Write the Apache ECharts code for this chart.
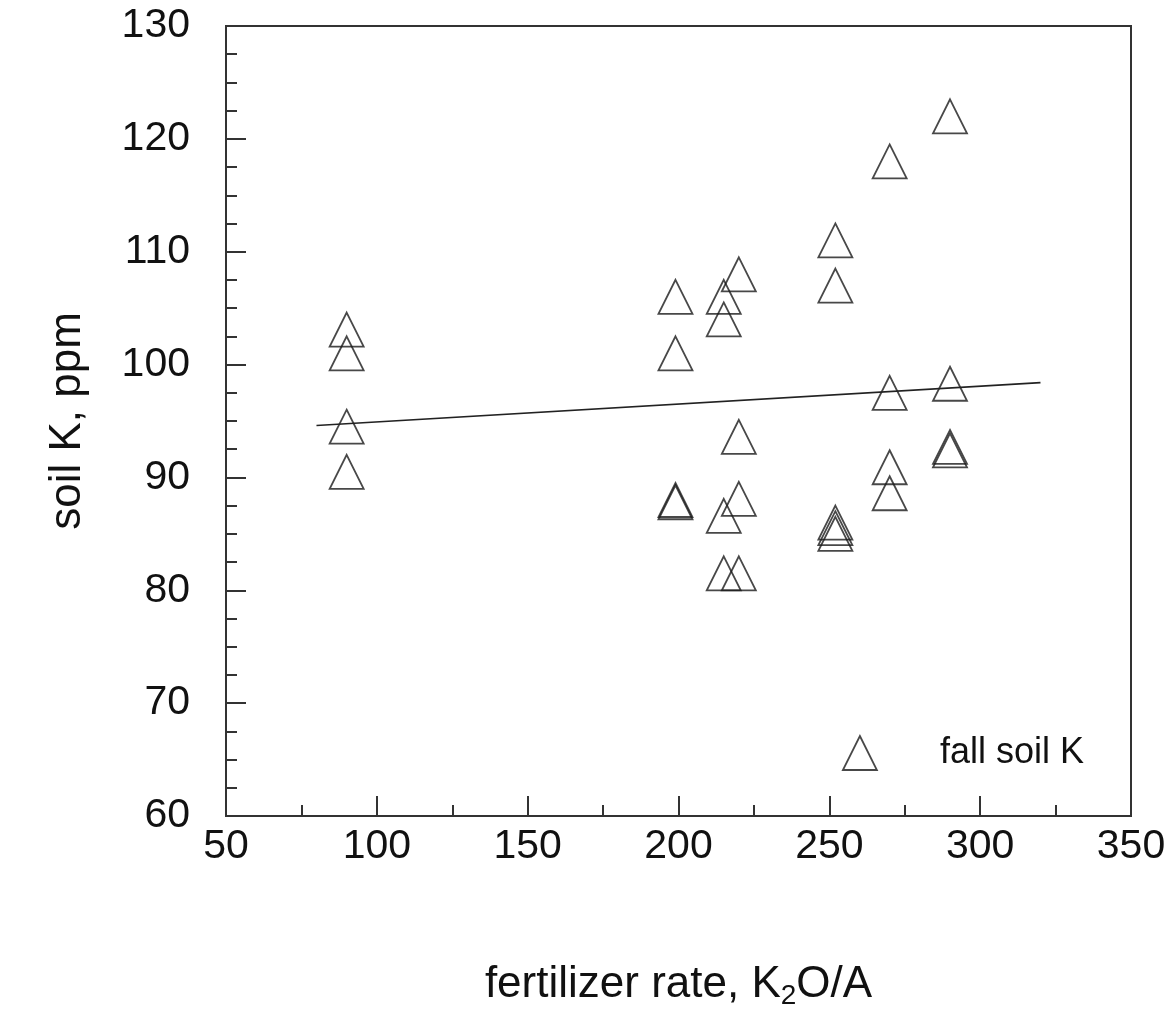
<!DOCTYPE html>
<html>
<head>
<meta charset="utf-8">
<script src="https://cdn.jsdelivr.net/npm/echarts/dist/echarts.min.js"></script>
<style>
  body { margin: 0; background: #fff; }
  #soilChart { width: 1169px; height: 1016px; }
</style>
</head>
<body>
<div id="soilChart"></div>
<script>
// fertilizer rate (K2O/A) for each plot
var rate = [90, 90, 90, 90,
            199, 199, 199, 199,
            215, 215, 215, 215,
            220, 220, 220, 220,
            252, 252, 252, 252, 252,
            270, 270, 270, 270,
            290, 290, 290, 290];
// fall soil K, ppm
var soilK = [103.1, 101.0, 94.5, 90.5,
             106.0, 101.0, 88.0, 87.8,
             106.0, 104.0, 86.6, 81.5,
             108.0, 93.6, 88.1, 81.5,
             111.0, 107.0, 86.0, 85.5, 85.0,
             118.0, 97.5, 90.9, 88.6,
             122.0, 98.3, 92.7, 92.4];
// fitted line end points
var fitX = [80, 320];
var fitY = [94.6, 98.4];

var font = '"Liberation Sans", Arial, Helvetica, sans-serif';

var points = rate.map(function (r, i) {
    return [r, soilK[i]];
});
var fitLine = fitX.map(function (x, i) {
    return [x, fitY[i]];
});

var chart = echarts.init(document.getElementById('soilChart'));

var opt = {
    animation: false,
    backgroundColor: '#fff',
    grid: {
        left: 226,
        top: 26,
        width: 905,
        height: 790,
        show: true,
        borderColor: '#333',
        borderWidth: 2
    },
    legend: {
        data: [{ name: 'fall soil K', icon: 'triangle' }],
        left: 837,
        top: 730,
        itemWidth: 34,
        itemHeight: 34,
        itemStyle: {
            color: 'rgba(0,0,0,0)',
            borderColor: '#1a1a1a',
            borderWidth: 1.8
        },
        textStyle: {
            fontFamily: font,
            fontSize: 36,
            color: '#111',
            padding: [0, 0, 0, 58]
        }
    },
    xAxis: {
        type: 'value',
        min: 50,
        max: 350,
        interval: 50,
        name: '{a|fertilizer rate, K}{s|2}{a|O/A}',
        nameLocation: 'middle',
        nameGap: 144,
        nameTextStyle: {
            rich: {
                a: { fontFamily: font, fontSize: 44, color: '#111', lineHeight: 50 },
                s: { fontFamily: font, fontSize: 28, color: '#111', lineHeight: 20, verticalAlign: 'bottom' }
            }
        },
        axisLine: { lineStyle: { color: '#333', width: 2 } },
        axisTick: { inside: true, length: 20, lineStyle: { color: '#333', width: 2 } },
        minorTick: { show: true, splitNumber: 2, length: 11, lineStyle: { color: '#333', width: 2 } },
        splitLine: { show: false },
        axisLabel: { fontFamily: font, fontSize: 41, color: '#111', margin: 10 }
    },
    yAxis: {
        type: 'value',
        min: 60,
        max: 130,
        interval: 10,
        name: 'soil K, ppm',
        nameLocation: 'middle',
        nameGap: 136,
        nameTextStyle: { fontFamily: font, fontSize: 44, color: '#111' },
        axisLine: { lineStyle: { color: '#333', width: 2 } },
        axisTick: { inside: true, length: 20, lineStyle: { color: '#333', width: 2 } },
        minorTick: { show: true, splitNumber: 4, length: 11, lineStyle: { color: '#333', width: 2 } },
        splitLine: { show: false },
        axisLabel: { fontFamily: font, fontSize: 41, color: '#111', margin: 36 }
    },
    series: [{
        name: 'fall soil K',
        type: 'scatter',
        symbol: 'triangle',
        symbolSize: [34, 34],
        itemStyle: {
            color: 'rgba(0,0,0,0)',
            borderColor: '#1a1a1a',
            borderWidth: 1.8
        },
        data: points
    }, {
        name: 'fit',
        type: 'line',
        showSymbol: false,
        symbol: 'none',
        lineStyle: { color: '#222', width: 1.6 },
        data: fitLine
    }]
};

chart.setOption(opt);
</script>
</body>
</html>
